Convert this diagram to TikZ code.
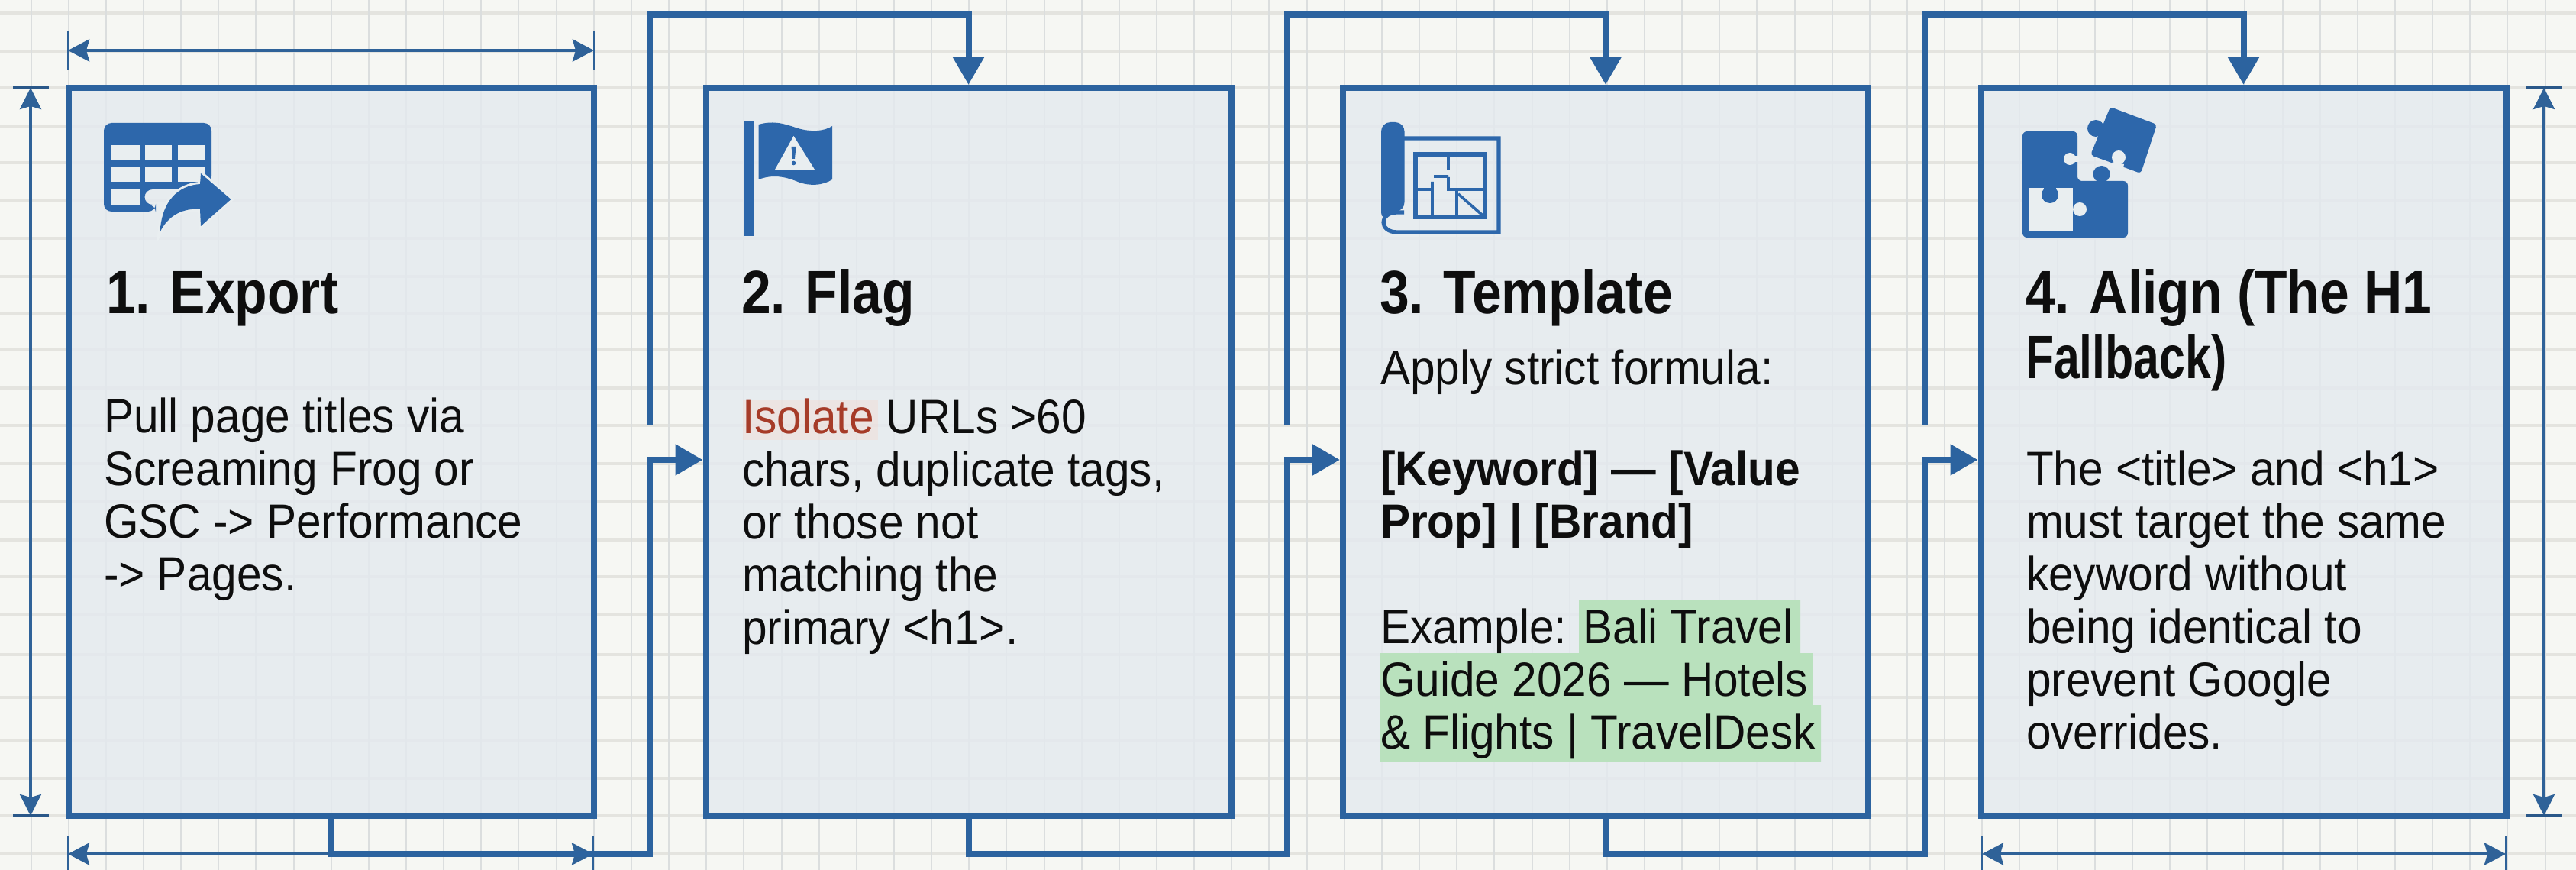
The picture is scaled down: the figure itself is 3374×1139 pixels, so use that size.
\documentclass[tikz,border=0pt]{standalone}
\usepackage{fontspec}
\setmainfont{Liberation Sans}[FakeStretch=0.93]
\newfontfamily\hf{Liberation Sans}[FakeStretch=0.87]
\newfontfamily\hfn{Liberation Sans}[FakeStretch=0.76]
\usetikzlibrary{arrows.meta}
\definecolor{paper}{HTML}{F6F7F3}
\definecolor{gridh}{HTML}{E4E4DF}
\definecolor{gridv}{HTML}{DBDEDE}
\definecolor{boxfill}{HTML}{E4EAEF}
\definecolor{iconbg}{HTML}{E9EEF0}
\definecolor{bluel}{HTML}{2C639F}
\definecolor{dimc}{HTML}{2F6298}
\definecolor{icon}{HTML}{2D67AB}
\definecolor{greenhl}{HTML}{B9E1BD}
\definecolor{isored}{HTML}{A63B28}
\definecolor{isohl}{HTML}{F4D8CF}
\definecolor{ink}{HTML}{0E0E0E}
\tikzset{
  x=0.5pt,y=-0.5pt,
  stepbox/.style={draw=bluel,line width=4pt,fill=boxfill,fill opacity=.82,draw opacity=1,minimum width=344pt,minimum height=476.5pt,inner sep=0pt,anchor=center},
  flow/.style={draw=bluel,line width=4pt,line join=miter},
  flowarrow/.style={flow,-{Triangle[length=18pt,width=19.5pt]}},
  dimline/.style={draw=dimc,line width=2.4pt,{Stealth[length=14pt,width=14.5pt,inset=2pt]}-{Stealth[length=14pt,width=14.5pt,inset=2pt]}},
  dimlinev/.style={draw=dimc,line width=1.8pt,{Stealth[length=14pt,width=14pt,inset=2pt]}-{Stealth[length=14pt,width=14pt,inset=2pt]}},
  dimtick/.style={draw=dimc,line width=1pt},
  dimtickh/.style={draw=dimc!90!black,line width=2pt},
  txt/.style={anchor=north west,inner sep=0pt,outer sep=0pt,align=left,text=ink},
  body/.style={txt,font=\fontsize{31.5}{34.5}\selectfont,execute at begin node=\rule{0pt}{24pt}},
  head/.style={txt,font=\hf\fontsize{40}{42.5}\selectfont\bfseries,execute at begin node=\rule{0pt}{32pt}},
  ic/.style={fill=icon,draw=none},
  icl/.style={fill=iconbg,draw=none},
  icline/.style={draw=icon,line width=2.6pt},
}
\begin{document}
\begin{tikzpicture}
\useasboundingbox (0,0) rectangle (3374,1139);
\fill[paper] (0,0) rectangle (3374,1139);
\begin{scope}
\clip (0,0) rectangle (3374,1139);
% grid
\foreach \gy in {17,67,115,165,213,263,312,362,410,458,508,557,607,657,707,755,805,857,913,969,1019,1068,1118}
  \draw[gridh,line width=2pt] (0,\gy) -- (3374,\gy);
\foreach \k in {0,...,68}
  \draw[gridv,line width=1pt] ({40.5+49.15*\k},0) -- ({40.5+49.15*\k},1139);

% boxes
\node[stepbox] (b1) at (433.5,591.5) {};
\node[stepbox] (b2) at (1268.5,591.5) {};
\node[stepbox] (b3) at (2103,591.5) {};
\node[stepbox] (b4) at (2938.5,591.5) {};

% highlights
\fill[isohl,opacity=.4] (973,524) rectangle (1150,576);
\fill[greenhl] (2068,785) -- (2358,785) -- (2358,855) -- (2374,855) -- (2374,923) -- (2385,923) -- (2385,997) -- (1807,997) -- (1807,855) -- (2068,855) -- cycle;

% dimension lines
\coordinate (dt1) at (89,66);   \coordinate (dt2) at (778,66);
\coordinate (db1) at (89,1118); \coordinate (db2) at (777,1118);
\coordinate (db3) at (2596,1118); \coordinate (db4) at (3282,1118);
\coordinate (dl1) at (40,115);  \coordinate (dl2) at (40,1068);
\coordinate (dr1) at (3332,115); \coordinate (dr2) at (3332,1068);
\draw[dimline] (dt1) -- (dt2);
\draw[dimline] (db1) -- (db2);
\draw[dimline] (db3) -- (db4);
\draw[dimlinev] (dl1) -- (dl2);
\draw[dimlinev] (dr1) -- (dr2);
\draw[dimtick] (89,40) -- (89,91) (778,40) -- (778,91);
\draw[dimtick] (89,1095) -- (89,1139) (777,1095) -- (777,1139);
\draw[dimtick] (2596,1095) -- (2596,1139) (3282,1095) -- (3282,1139);
\draw[dimtickh] (17,115) -- (64,115) (17,1068) -- (64,1068);
\draw[dimtickh] (3308,115) -- (3356,115) (3308,1068) -- (3356,1068);

% connectors 1 -> 2
\coordinate (r1) at (851,1118); \coordinate (g1) at (851,602);
\coordinate (u1) at (851,557);  \coordinate (t1) at (851,19);
\draw[flowarrow] (b1.south) |- (r1) -- (g1) -- (g1 -| b2.west);
\draw[flowarrow] (u1) -- (t1) -| (b2.north);
% connectors 2 -> 3
\coordinate (r2) at (1686,1118); \coordinate (g2) at (1686,602);
\coordinate (u2) at (1686,557);  \coordinate (t2) at (1686,19);
\draw[flowarrow] (b2.south) |- (r2) -- (g2) -- (g2 -| b3.west);
\draw[flowarrow] (u2) -- (t2) -| (b3.north);
% connectors 3 -> 4
\coordinate (r3) at (2521,1118); \coordinate (g3) at (2521,602);
\coordinate (u3) at (2521,557);  \coordinate (t3) at (2521,19);
\draw[flowarrow] (b3.south) |- (r3) -- (g3) -- (g3 -| b4.west);
\draw[flowarrow] (u3) -- (t3) -| (b4.north);

% icon 1: table with arrow
\fill[ic,rounded corners=5pt] (136,161) -- (277,161) -- (277,240) -- (228,248) -- (189.5,248) -- (189.5,268) -- (204,268) -- (204,277) -- (136,277) -- cycle;
\foreach \cx/\cw in {145/37.5,189.5/35.5,232.5/36}
  \foreach \cy in {190,218}
    \fill[icl] (\cx,\cy) rectangle ++(\cw,20);
\fill[icl] (145,248) rectangle ++(37.5,20);
\draw[iconbg,line width=3pt,line join=miter]
  (209.5,304) .. controls (212,262) and (234,243) .. (262,241) -- (263,227) -- (302.5,261) -- (263,296) -- (262,274)
  .. controls (240,272) and (220,282) .. cycle;
\fill[icon]
  (209.5,304) .. controls (212,262) and (234,243) .. (262,241) -- (263,227) -- (302.5,261) -- (263,296) -- (262,274)
  .. controls (240,272) and (220,282) .. cycle;

% icon 2: flag
\fill[ic] (975,159) rectangle (986.5,309);
\fill[ic] (993.5,163) .. controls (1015,157) and (1030,163) .. (1045,168) .. controls (1062,173) and (1080,172) .. (1090,165)
  -- (1090,235) .. controls (1078,243) and (1060,244) .. (1045,238) .. controls (1028,231) and (1012,228) .. (993.5,235) -- cycle;
\fill[icl] (1039.5,178) -- (1067,222) -- (1015,222) -- cycle;
\fill[ic] (1036.5,192) -- (1042.5,192) -- (1041,208) -- (1038,208) -- cycle;
\fill[ic] (1039.5,213.5) circle (2.8);

% icon 3: blueprint
\draw[icline,line width=2.6pt] (1835,181) -- (1963,181) -- (1963,304) -- (1830,304) .. controls (1806,304) and (1806,278) .. (1830,278) -- (1839,278);
\fill[ic,rounded corners=6pt] (1809,290) -- (1809,160) -- (1839.5,160) -- (1839.5,277) -- (1825,277) -- cycle;
\draw[icline,line width=2.6pt] (1854,202) rectangle (1945,284);
\draw[icline,line width=1.8pt] (1897,202) -- (1897,222) (1897,232) -- (1897,248) -- (1945,248)
  (1878,231) -- (1897,231) (1855,248) -- (1876,248) (1876,238) -- (1876,284) (1908,248) -- (1908,284) (1910,254) -- (1942,282);

% icon 4: puzzle
\fill[ic,rounded corners=3pt] (2649,172) -- (2721,172) -- (2721,237) -- (2787,237) -- (2787,311) -- (2649,311) -- cycle;
\fill[icl] (2711,208) circle (8); \fill[icl] (2711,204) rectangle (2723,212);
\fill[ic] (2752.5,228) circle (11);
\fill[icl] (2656.5,246) rectangle (2715,303);
\fill[ic] (2677,244) rectangle (2693,252);
\fill[ic] (2685,255) circle (11);
\fill[icl] (2724,274) circle (9);
\fill[ic,rounded corners=2pt] (2764,140) -- (2825,163) -- (2804,227) -- (2738,203) -- cycle;
\fill[ic] (2745,168) circle (11);
\fill[icl] (2775,206) circle (9);
\fill[icl] (2767,212) -- (2782,215) -- (2780,224) -- (2765,219) -- cycle;

% texts
\node[head] (h1) at (139,346) {1. Export};
\node[head] (h2) at (971,346) {2. Flag};
\node[head] (h3) at (1807,346) {3. Template};
\node[head] (h4) at (2653,353) {4. Align (The H1\\{\hfn Fallback)}};

\node[body] (t1a) at (136,521) {Pull page titles via\\Screaming Frog or\\GSC -> Performance\\-> Pages.};
\node[body] (t2a) at (972,522) {{\color{isored}Isolate} URLs >60\\chars, duplicate tags,\\or those not\\matching the\\primary <h1>.};
\node[body] (t3a) at (1808,455) {Apply strict formula:};
\node[body,font=\fontsize{31.5}{34.5}\selectfont\bfseries] (t3b) at (1808,590) {[Keyword] — [Value\\Prop] | [Brand]};
\node[body] (t3c) at (1808,797) {Example: Bali Travel\\Guide 2026 — Hotels\\\& Flights | TravelDesk};
\node[body] (t4a) at (2654,590) {The <title> and <h1>\\must target the same\\keyword without\\being identical to\\prevent Google\\overrides.};
\end{scope}
\end{tikzpicture}
\end{document}
